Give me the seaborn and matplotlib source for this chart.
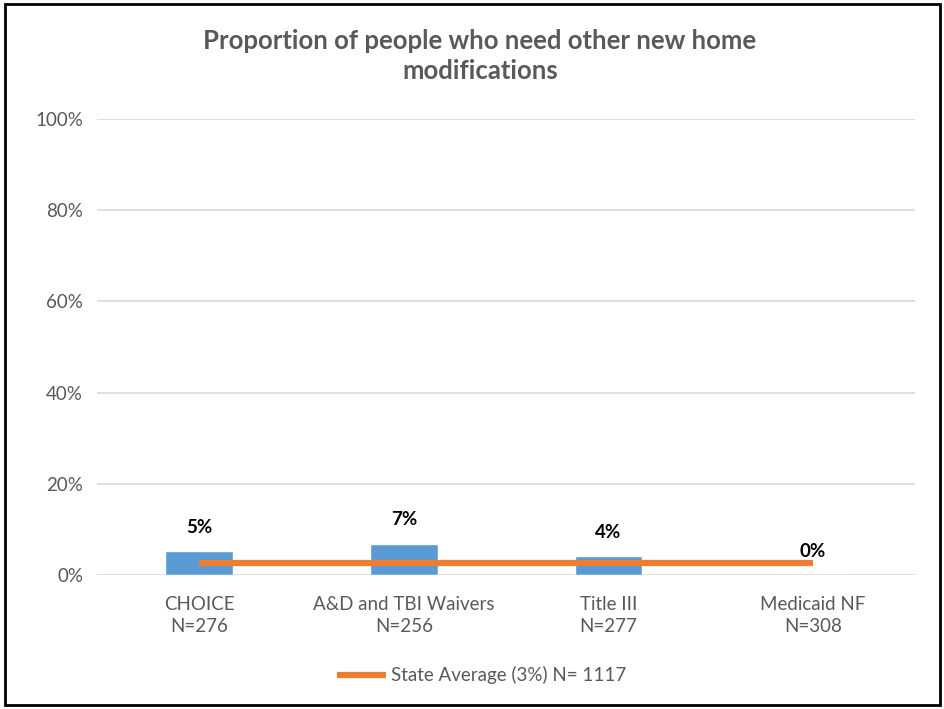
import numpy as np
import pandas as pd
import matplotlib
matplotlib.use("Agg")
import matplotlib.pyplot as plt
import seaborn as sns

# data
categories = ["CHOICE\nN=276", "A&D and TBI Waivers\nN=256", "Title III\nN=277", "Medicaid NF\nN=308"]
proportion = [5.3, 6.9, 4.1, 0.0]
bar_labels = ["5%", "7%", "4%", "0%"]
state_avg = [2.7, 2.7, 2.7, 2.7]
avg_label = "State Average (3%) N= 1117"
yticks = [0, 20, 40, 60, 80, 100]

sns.set_theme(style="white")
plt.rcParams['font.family'] = ['Lato', 'DejaVu Sans']

fig = plt.figure(figsize=(9.45, 7.09), dpi=100)
ax = fig.add_axes([0.1026, 0.189, 0.866, 0.643])

df = pd.DataFrame({"cat": categories, "val": proportion})
sns.barplot(data=df, x="cat", y="val", color="#5B9BD5", width=0.33, saturation=1, ax=ax)
sns.lineplot(x=categories, y=state_avg, color="#ED7D31", linewidth=4.5, ax=ax,
             label=avg_label, solid_capstyle="butt")

for i, (v, lab) in enumerate(zip(proportion, bar_labels)):
    ax.annotate(lab, (i, v), xytext=(0, 11), textcoords="offset points",
                ha="center", va="bottom", fontsize=13.5, fontweight="bold", color="black")

ax.set_ylim(0, 100)
ax.set_xlim(-0.5, 3.5)
ax.set_yticks(yticks)
ax.set_yticklabels([f"{t}%" for t in yticks])
ax.yaxis.grid(True, color="#D9D9D9", linewidth=1.2)
ax.set_axisbelow(True)
for s in ax.spines.values():
    s.set_visible(False)
ax.tick_params(axis="both", length=0, labelsize=13.5, colors="#595959", pad=10)
ax.tick_params(axis="x", pad=15)
for t in ax.get_xticklabels():
    t.set_linespacing(1.35)
ax.set_xlabel("")
ax.set_ylabel("")

# title and legend are centred on the whole chart, not the plot area
ax.set_title("Proportion of people who need other new home\nmodifications", x=0.468,
             fontsize=18.5, fontweight="bold", color="#595959", pad=29, linespacing=1.3)

leg = ax.legend(loc="upper center", bbox_to_anchor=(0.47, -0.163), frameon=False,
                fontsize=13.5, handlelength=2.6, handletextpad=0.3)
for t in leg.get_texts():
    t.set_color("#595959")

fig.patches.append(plt.Rectangle((0.005, 0.006), 0.99, 0.988, transform=fig.transFigure,
                                 fill=False, edgecolor="black", linewidth=2))

fig.savefig("out.png", dpi=100)
